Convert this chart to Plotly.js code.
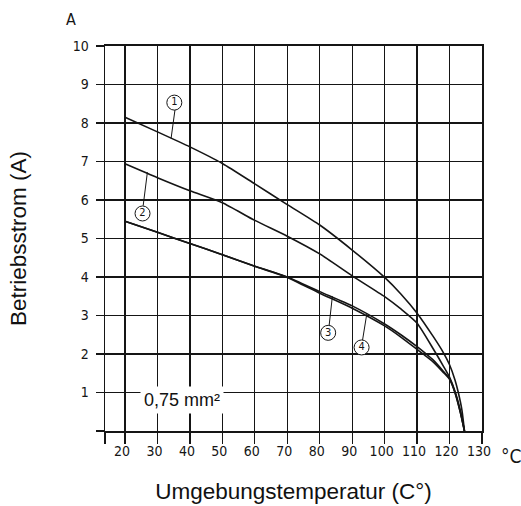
<!DOCTYPE html>
<html>
<head>
<meta charset="utf-8">
<script src="https://cdn.plot.ly/plotly-3.0.1.min.js"></script>
<style>html,body{margin:0;padding:0;background:#fff;}#chart{width:521px;height:506px;}</style>
</head>
<body>
<div id="chart"></div>
<script>
// Temperature (°C) vs current (A)
const tempCurve1 = [20, 30, 40, 50, 60, 70, 80, 90, 100, 105, 110, 115, 118, 120, 121.7, 122.7, 123.8, 124.6];
const currCurve1 = [8.15, 7.77, 7.38, 6.95, 6.42, 5.88, 5.35, 4.70, 3.99, 3.56, 3.06, 2.45, 2.05, 1.72, 1.32, 1.0, 0.55, 0];

const tempCurve2 = [20, 30, 40, 50, 60, 70, 80, 90, 100, 105, 110, 115, 118, 120, 121.8, 123.4, 124.6];
const currCurve2 = [6.94, 6.58, 6.24, 5.93, 5.47, 5.06, 4.60, 4.03, 3.49, 3.17, 2.80, 2.13, 1.70, 1.40, 1.0, 0.5, 0];

const tempCurve3 = [20, 30, 40, 50, 60, 70, 80, 90, 100, 105, 110, 112.5, 115, 118, 120, 121.7, 123.3, 124.6];
const currCurve3 = [5.45, 5.16, 4.87, 4.58, 4.28, 4.0, 3.62, 3.25, 2.78, 2.50, 2.19, 2.02, 1.84, 1.56, 1.36, 1.0, 0.5, 0];

const tempCurve4 = [20, 30, 40, 50, 60, 70, 80, 90, 100, 105, 110, 112.5, 115, 118, 120, 121.7, 123.3, 124.6];
const currCurve4 = [5.45, 5.16, 4.87, 4.58, 4.28, 3.99, 3.58, 3.19, 2.73, 2.44, 2.12, 1.96, 1.79, 1.53, 1.34, 0.99, 0.49, 0];

// Curve labels (circled numbers) and leader lines
const labelText = ['1', '2', '3', '4'];
const labelX = [35.2, 25.4, 82.6, 92.9];
const labelY = [8.53, 5.65, 2.55, 2.17];
const leaderX0 = [35.4, 25.6, 82.9, 93.2];
const leaderY0 = [8.34, 5.85, 2.74, 2.36];
const leaderX1 = [34.2, 26.9, 83.9, 94.5];
const leaderY1 = [7.6, 6.72, 3.50, 3.04];

const xTickVals = [13.84, 20, 30, 40, 50, 60, 70, 80, 90, 100, 110, 120, 130];
const xTickText = ['', '20', '30', '40', '50', '60', '70', '80', '90', '100', '110', '120', '130'];
const yTickVals = [0, 1, 2, 3, 4, 5, 6, 7, 8, 9, 10];
const yTickText = ['', '1', '2', '3', '4', '5', '6', '7', '8', '9', '10'];

const ink = '#151515';
const narrow = '"Liberation Sans Narrow", "DejaVu Sans Condensed", Arial, sans-serif';
const sans = '"Liberation Sans", Arial, Helvetica, sans-serif';

const curveStyle = {color: ink, width: 1.6, shape: 'spline', smoothing: 0.6};
const traces = [
  {x: tempCurve1, y: currCurve1, mode: 'lines', line: curveStyle, hoverinfo: 'skip'},
  {x: tempCurve2, y: currCurve2, mode: 'lines', line: curveStyle, hoverinfo: 'skip'},
  {x: tempCurve3, y: currCurve3, mode: 'lines', line: curveStyle, hoverinfo: 'skip'},
  {x: tempCurve4, y: currCurve4, mode: 'lines', line: curveStyle, hoverinfo: 'skip'}
];
for (let i = 0; i < labelText.length; i++) {
  traces.push({
    x: [leaderX0[i], leaderX1[i]], y: [leaderY0[i], leaderY1[i]],
    mode: 'lines', line: {color: ink, width: 1}, hoverinfo: 'skip'
  });
}
traces.push({
  x: labelX, y: labelY, mode: 'markers+text', text: labelText,
  textposition: 'middle center',
  textfont: {family: narrow, size: 11, color: ink},
  marker: {symbol: 'circle', size: 15, color: '#fff', line: {color: ink, width: 1}},
  hoverinfo: 'skip'
});

const layout = {
  width: 521, height: 506,
  margin: {l: 105, r: 39, t: 46, b: 75},
  paper_bgcolor: '#fff', plot_bgcolor: '#fff',
  showlegend: false,
  xaxis: {
    range: [13.84, 130], tickmode: 'array', tickvals: xTickVals, ticktext: xTickText,
    showgrid: true, gridcolor: ink, gridwidth: 1.3,
    showline: true, linecolor: ink, linewidth: 2.2, mirror: true,
    ticks: 'outside', ticklen: 11, tickwidth: 1.3, tickcolor: ink,
    tickfont: {family: narrow, size: 14, color: ink},
    ticklabelstandoff: -5, ticklabelshift: -3,
    zeroline: false, fixedrange: true,
    title: {text: 'Umgebungstemperatur (C°)', font: {family: sans, size: 22.5, color: '#111'}, standoff: 25}
  },
  yaxis: {
    range: [0, 10], tickmode: 'array', tickvals: yTickVals, ticktext: yTickText,
    showgrid: true, gridcolor: ink, gridwidth: 1.3,
    showline: true, linecolor: ink, linewidth: 1.5, mirror: true,
    ticks: 'outside', ticklen: 8, tickwidth: 1.3, tickcolor: ink,
    tickfont: {family: narrow, size: 14, color: ink},
    ticklabelstandoff: 4,
    zeroline: false, fixedrange: true,
    title: {text: 'Betriebsstrom (A)', font: {family: sans, size: 22.5, color: '#111'}, standoff: 40}
  },
  annotations: [
    {x: 37.7, y: 0.8, xref: 'x', yref: 'y', text: '0,75 mm²', showarrow: false,
     font: {family: sans, size: 18, color: '#111'}, bgcolor: '#fff', borderpad: 3},
    {x: (71 - 105) / 377, y: 1 + (46 - 20) / 385, xref: 'paper', yref: 'paper', text: 'A', showarrow: false,
     xanchor: 'center', yanchor: 'middle', font: {family: narrow, size: 16, color: ink}},
    {x: (511 - 105) / 377, y: (431 - 456) / 385, xref: 'paper', yref: 'paper', text: '°C', showarrow: false,
     xanchor: 'center', yanchor: 'middle', font: {family: narrow, size: 19, color: ink}}
  ]
};

Plotly.newPlot('chart', traces, layout, {staticPlot: true, displayModeBar: false});
</script>
</body>
</html>
